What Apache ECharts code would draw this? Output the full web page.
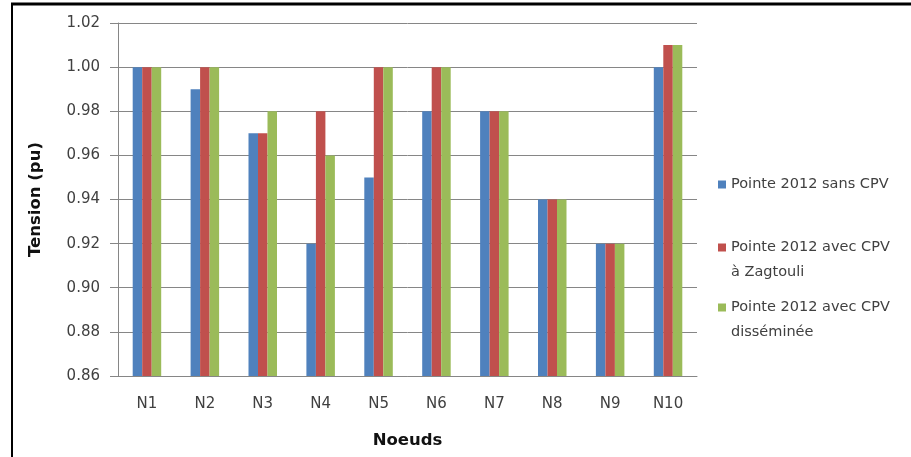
<!DOCTYPE html>
<html><head><meta charset="utf-8">
<script src="https://cdn.jsdelivr.net/npm/echarts@6/dist/echarts.min.js"></script>
<style>html,body{margin:0;padding:0;background:#fff}#c{width:911px;height:457px}</style>
</head><body><div id="c"></div>
<script>
const categories = ['N1','N2','N3','N4','N5','N6','N7','N8','N9','N10'];
const seriesNames = ['Pointe 2012 sans CPV', 'Pointe 2012 avec CPV\nà Zagtouli', 'Pointe 2012 avec CPV\ndisséminée'];
const sansCPV     = [1.00, 0.99, 0.97, 0.92, 0.95, 0.98, 0.98, 0.94, 0.92, 1.00];
const avecZagtouli= [1.00, 1.00, 0.97, 0.98, 1.00, 1.00, 0.98, 0.94, 0.92, 1.01];
const dissemine   = [1.00, 1.00, 0.98, 0.96, 1.00, 1.00, 0.98, 0.94, 0.92, 1.01];
const colors = ['#4F81BD', '#C0504D', '#9BBB59'];
const font = 'DejaVu Sans, sans-serif';

const chart = echarts.init(document.getElementById('c'));
const data = [sansCPV, avecZagtouli, dissemine];
const legendTops = [167, 205, 265];
const legendText = { fontSize: 14.5, color: '#404040', fontFamily: font, lineHeight: 25 };
chart.setOption({
  animation: false,
  color: colors,
  textStyle: { fontFamily: font },
  grid: { left: 118, right: 214, top: 23, bottom: 81, containLabel: false },
  graphic: [
    { type: 'line', shape: { x1: 11, y1: 4, x2: 911, y2: 4 }, style: { stroke: '#000', lineWidth: 3 } },
    { type: 'line', shape: { x1: 12, y1: 3, x2: 12, y2: 457 }, style: { stroke: '#000', lineWidth: 2 } }
  ],
  legend: seriesNames.map((n, i) => ({
    orient: 'vertical',
    left: 713,
    top: legendTops[i],
    itemWidth: 8,
    itemHeight: 8,
    itemGap: 4,
    icon: 'rect',
    textStyle: legendText,
    formatter: name => (name.indexOf('\n') >= 0 ? ' \n' : '') + name,
    data: [n]
  })),
  xAxis: {
    type: 'category',
    data: categories,
    name: 'Noeuds',
    nameLocation: 'middle',
    nameGap: 56,
    nameTextStyle: { fontSize: 16.5, fontWeight: 'bold', color: '#111', fontFamily: font },
    axisLine: { show: true, lineStyle: { color: '#868686', width: 1 } },
    axisTick: { show: false },
    axisLabel: { fontSize: 15, color: '#404040', margin: 21, fontFamily: font },
  },
  yAxis: {
    type: 'value',
    min: 0.86,
    max: 1.02,
    interval: 0.02,
    name: 'Tension (pu)',
    nameLocation: 'middle',
    nameGap: 74,
    nameTextStyle: { fontSize: 16.5, fontWeight: 'bold', color: '#111', fontFamily: font },
    axisLine: { show: true, lineStyle: { color: '#868686', width: 1 } },
    axisTick: { show: true, length: 8, inside: false, lineStyle: { color: '#868686' } },
    axisLabel: { fontSize: 15, color: '#404040', margin: 18, fontFamily: font, formatter: v => v.toFixed(2) },
    splitLine: { show: true, lineStyle: { color: '#868686', width: 1 } }
  },
  series: data.map((d, i) => ({
    name: seriesNames[i],
    type: 'bar',
    data: d,
    barWidth: 9.5,
    barGap: '0%',
    itemStyle: { color: colors[i] }
  }))
});
</script></body></html>
